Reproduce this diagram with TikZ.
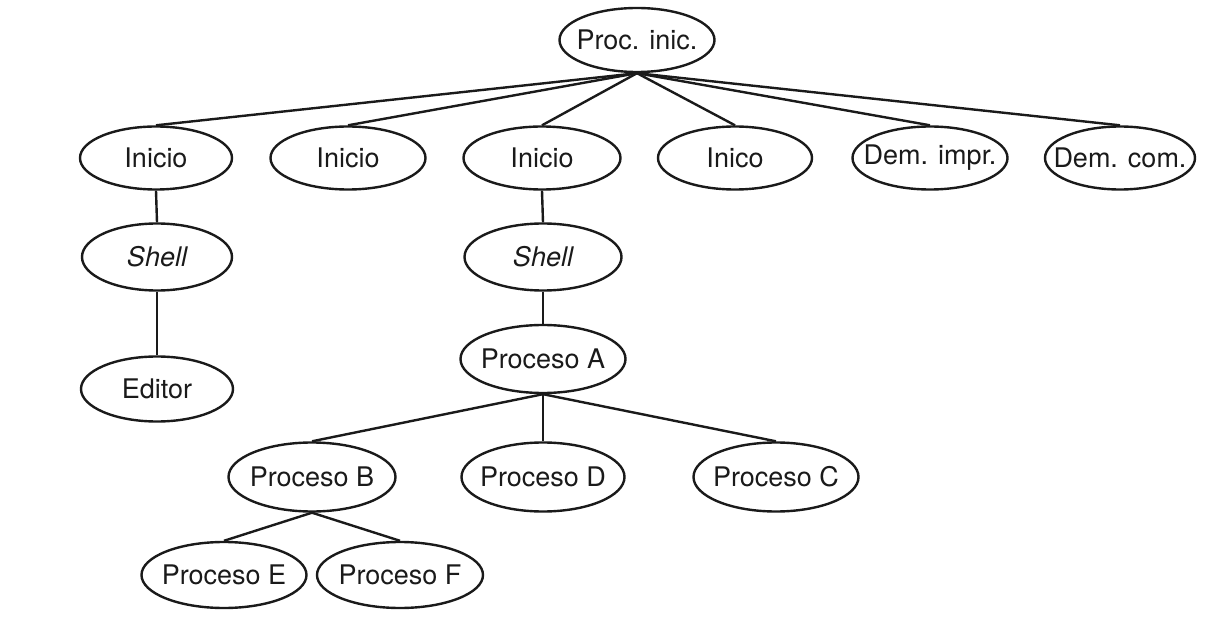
\documentclass[tikz,border=0pt]{standalone}
\usepackage{fontspec}
\setmainfont{TeX Gyre Heros}
\usetikzlibrary{shapes.geometric}
\definecolor{ink}{HTML}{1A1A1A}
\begin{document}
\begin{tikzpicture}[x=1pt,y=-1pt,
  % ellipse whose size is set only by minimum width/height; the label is a zero-width centred box
  proc/.style={ellipse, draw=ink, text=ink, line width=2.4pt, inner sep=0pt,
    minimum width=155pt, minimum height=65pt,
    font=\fontsize{27}{30}\selectfont,
    execute at begin node={\hbox to 0pt\bgroup\hss},
    execute at end node={\hss\egroup}},
  link/.style={draw=ink, line width=2.4pt}]
\useasboundingbox (0,0) rectangle (1205,620);

% root
\node[proc, minimum width=155pt, minimum height=64pt] (root) at (637,40) {Proc. inic.};

% first level
\node[proc, minimum width=152pt, minimum height=63pt] (i1) at (156,158) {Inicio};
\node[proc, minimum width=155pt, minimum height=63pt] (i2) at (348,158) {Inicio};
\node[proc, minimum width=157pt, minimum height=63pt] (i3) at (542,158) {Inicio};
\node[proc, minimum width=154pt, minimum height=63pt] (i4) at (735,158) {Inico};
\node[proc, minimum width=155pt, minimum height=63pt] (di) at (930,158) {Dem. impr.};
\node[proc, minimum width=150pt, minimum height=63pt] (dc) at (1120,158) {Dem. com.};

% shells
\node[proc, minimum width=150pt, minimum height=67pt] (s1) at (157,257) {\itshape Shell};
\node[proc, minimum width=157pt, minimum height=67pt] (s2) at (543,257) {\itshape Shell};

% processes
\node[proc, minimum width=152pt, minimum height=65pt] (ed) at (157,389) {Editor};
\node[proc, minimum width=165pt, minimum height=68pt] (pa) at (543,359) {Proceso A};
\node[proc, minimum width=167pt, minimum height=69pt] (pb) at (312,477) {Proceso B};
\node[proc, minimum width=163pt, minimum height=69pt] (pd) at (543,477) {Proceso D};
\node[proc, minimum width=165pt, minimum height=69pt] (pc) at (776,477) {Proceso C};
\node[proc, minimum width=165pt, minimum height=66pt] (pe) at (224,575) {Proceso E};
\node[proc, minimum width=166pt, minimum height=66pt] (pf) at (400,575) {Proceso F};

% connectors
\foreach \c in {i1,i2,i3,i4,di,dc} \draw[link] (root.south) -- (\c.north);
\draw[link] (i1.south) -- (s1.north);
\draw[link] (s1.south) -- (ed.north);
\draw[link] (i3.south) -- (s2.north);
\draw[link] (s2.south) -- (pa.north);
\foreach \c in {pb,pd,pc} \draw[link] (pa.south) -- (\c.north);
\foreach \c in {pe,pf} \draw[link] (pb.south) -- (\c.north);
\end{tikzpicture}
\end{document}
